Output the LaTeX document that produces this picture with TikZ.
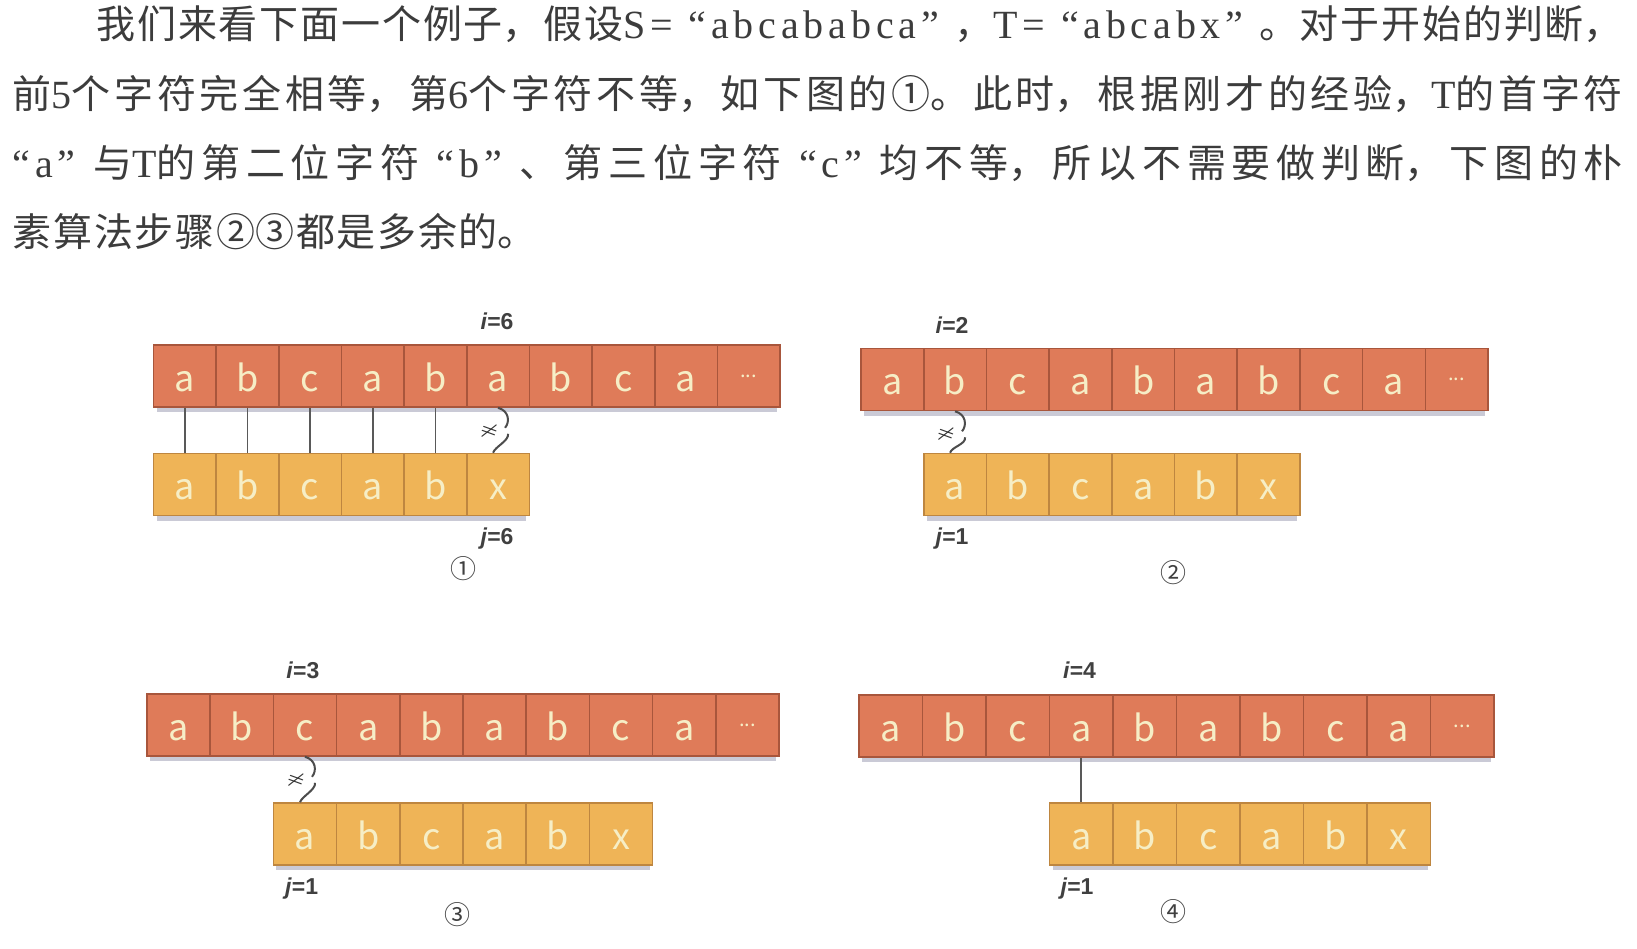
\documentclass[tikz,border=0pt]{standalone}
\usepackage{fontspec}
\setmainfont{Liberation Serif}
\newfontfamily\cjk{Noto Sans CJK SC}
\newfontfamily\latf[LetterSpace=12]{Liberation Serif}
\newfontfamily\cellf{Noto Sans CJK SC}
\newfontfamily\lblf{Liberation Sans}
\usetikzlibrary{calc}
\XeTeXlinebreaklocale "zh"
\XeTeXlinebreakskip=0pt plus 8pt\relax
\definecolor{sfill}{HTML}{DF7B59}
\definecolor{sline}{HTML}{A8563C}
\definecolor{tfill}{HTML}{EFB457}
\definecolor{tline}{HTML}{BE8640}
\definecolor{letter}{HTML}{F6EEC6}
\definecolor{ink}{HTML}{3C3C3C}
\definecolor{lbl}{HTML}{404040}
\definecolor{shad}{HTML}{CACAD6}
\newcommand\lat[1]{{\latf\fontsize{20}{20}\selectfont #1}}
\newcommand\celldots{\raisebox{7pt}{\fontsize{10}{10}\selectfont...}}
\newcommand\jline[1]{\tolerance=10000\hbadness=10000\parfillskip=0pt\relax #1\par}
\tikzset{
  scell/.style={draw=sline, line width=0.8pt, fill=sfill, minimum height=31pt, inner sep=0pt,
    text=letter, font=\cellf\fontsize{18}{18}\selectfont, text height=15pt, text depth=0pt},
  tcell/.style={draw=tline, line width=0.8pt, fill=tfill, minimum height=31pt, inner sep=0pt,
    text=letter, font=\cellf\fontsize{18}{18}\selectfont, text height=15pt, text depth=0pt},
  conn/.style={draw=black!65, line width=0.9pt},
  sq/.style={draw=black!70, line width=1pt},
  neqf/.style={inner sep=0pt, text=black!80, font=\fontsize{9.5}{9.5}\selectfont\boldmath, rotate=-20},
  lab/.style={inner sep=0pt, text=lbl, font=\lblf\bfseries\fontsize{11.5}{13}\selectfont},
  num/.style={inner sep=0pt, text=lbl, font=\cjk\fontsize{13}{13}\selectfont},
  para/.style={inner sep=0pt, text width=805pt, align=justify, text=ink,
    font=\cjk\fontsize{19.5}{19.5}\selectfont},
}
% #1 id, #2 x0, #3 cell width, #4 top row centre y, #5 offset (cells), #6 bottom row centre y
\newcommand\panel[6]{%
  \fill[shad] ({#2+3}, {#4+27}) rectangle ({#2+10*#3-3}, {#4+36});
  \foreach \c [count=\i] in {a,b,c,a,b,a,b,c,a,\celldots}
    \node[scell, minimum width={#3*0.5pt}] (#1s\i) at ({#2+(\i-0.5)*#3}, #4) {\c};
  \fill[shad] ({#2+#5*#3+3}, {#6+27}) rectangle ({#2+(#5+6)*#3-3}, {#6+36});
  \foreach \c [count=\i] in {a,b,c,a,b,x}
    \node[tcell, minimum width={#3*0.5pt}] (#1t\i) at ({#2+(#5+\i-0.5)*#3}, #6) {\c};
}
% #1 id, #2 top index, #3 bottom index
\newcommand\neqmark[3]{%
  \node[neqf] (#1ne) at ($(#1s#2.south)+(-9,23)$) {$\neq$};
  \draw[sq] (#1s#2.south) .. controls ($(#1s#2.south)+(11,3)$) and ($(#1s#2.south)+(12,14)$) .. ($(#1s#2.south)+(7,20)$);
  \draw[sq] ($(#1t#3.north)+(-5,0)$) .. controls ($(#1t#3.north)+(-3,-6)$) and ($(#1s#2.south)+(11,33)$) .. ($(#1s#2.south)+(10,26)$);
}
\begin{document}
\begin{tikzpicture}[x=0.5pt, y=-0.5pt]
\useasboundingbox (0,0) rectangle (1637,948);
\fill[white] (0,0) rectangle (1637,948);

% paragraph
\node[para, anchor=base west] (l1) at (12.5,38) {\jline{\hspace*{41.75pt}我们来看下面一个例子，假设\lat{S= “abcababca” }，\lat{T= “abcabx” }。对于开始的判断，}};
\node[para, anchor=base west] (l2) at (12.5,108) {\jline{前\lat{5}个字符完全相等，第\lat{6}个字符不等，如下图的①。此时，根据刚才的经验，\lat{T}的首字符}};
\node[para, anchor=base west] (l3) at (12.5,177) {\jline{\lat{“a” }与\lat{T}的第二位字符\lat{ “b” }、第三位字符\lat{ “c” }均不等，所以不需要做判断，下图的朴}};
\node[para, text width=262pt, anchor=base west] (l4) at (12.5,246) {\jline{素算法步骤②③都是多余的。}};

% panel 1
\panel{p1}{153.5}{62.65}{376}{0}{484.5}
\foreach \i in {1,...,5} \draw[conn] (p1s\i.south) -- (p1t\i.north);
\neqmark{p1}{6}{6}
\node[lab] (p1i) at (497,321.5) {\textit{i}=6};
\node[lab] (p1j) at (497,539) {\textit{j}=6};
\node[num] (p1n) at (463.5,569) {①};

% panel 2
\panel{p2}{861}{62.7}{379.5}{1}{484.5}
\neqmark{p2}{2}{1}
\node[lab] (p2i) at (952,324.7) {\textit{i}=2};
\node[lab] (p2j) at (952,539) {\textit{j}=1};
\node[num] (p2n) at (1173.5,573) {②};

% panel 3
\panel{p3}{147}{63.2}{725}{2}{834}
\neqmark{p3}{3}{1}
\node[lab] (p3i) at (302.8,670) {\textit{i}=3};
\node[lab] (p3j) at (301.7,888.5) {\textit{j}=1};
\node[num] (p3n) at (457,914.5) {③};

% panel 4
\panel{p4}{859}{63.5}{726}{3}{834}
\draw[conn] (p4s4.south) -- (p4t1.north);
\node[lab] (p4i) at (1079.5,670) {\textit{i}=4};
\node[lab] (p4j) at (1077,888.5) {\textit{j}=1};
\node[num] (p4n) at (1173.5,911.4) {④};
\end{tikzpicture}
\end{document}
